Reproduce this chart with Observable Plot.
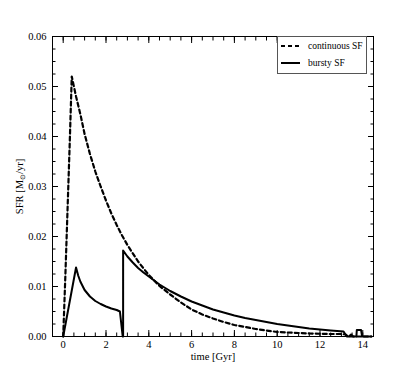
<!DOCTYPE html>
<html>
<head>
<meta charset="utf-8">
<script src="https://cdn.jsdelivr.net/npm/d3@7"></script>
<script src="https://cdn.jsdelivr.net/npm/@observablehq/plot@0.6"></script>
<style>
  html, body { margin: 0; padding: 0; background: #fff; }
  #wrap { position: relative; width: 415px; height: 374px; }
  #legend { position: absolute; left: 277px; top: 36px; width: 88px; height: 36px;
    border: 1px solid #555; background: #fff; font-family: 'Liberation Serif', serif; font-size: 9px; }
</style>
</head>
<body>
<div id="wrap"></div>
<script>
// continuous SF (dashed)
const contTime = [0, 0.1, 0.2, 0.3, 0.4, 0.6, 0.8, 1.0, 1.25, 1.5, 1.75, 2.0, 2.25, 2.5, 2.75, 3.0, 3.5, 4.0, 4.5, 5.0, 5.5, 6.0, 6.5, 7.0, 7.5, 8.0, 8.5, 9.0, 9.5, 10.0, 10.5, 11.0, 11.5, 12.0, 12.5, 13.0, 13.2, 13.3, 14.4];
const contSFR  = [0, 0.012, 0.025, 0.038, 0.052, 0.048, 0.0445, 0.0405, 0.0365, 0.0330, 0.0300, 0.0272, 0.0246, 0.0223, 0.0202, 0.0183, 0.0150, 0.0123, 0.0101, 0.0084, 0.0068, 0.0054, 0.0044, 0.0036, 0.0029, 0.0023, 0.0019, 0.0015, 0.0012, 0.0009, 0.0008, 0.0007, 0.0006, 0.00055, 0.0005, 0.0005, 0.0004, 0, 0];
// bursty SF (solid)
const burstTime = [0, 0.6, 0.7, 0.8, 1.0, 1.25, 1.5, 1.75, 2.0, 2.25, 2.5, 2.65, 2.78, 2.8, 2.8, 3.0, 3.25, 3.5, 3.75, 4.0, 4.5, 5.0, 5.5, 6.0, 6.5, 7.0, 7.5, 8.0, 8.5, 9.0, 9.5, 10.0, 10.5, 11.0, 11.5, 12.0, 12.5, 13.1, 13.25, 13.35, 13.45, 13.55, 13.7, 13.72, 13.92, 13.97, 14.4];
const burstSFR  = [0, 0.0138, 0.0122, 0.0110, 0.0093, 0.0080, 0.0071, 0.0065, 0.0060, 0.0056, 0.0053, 0.0050, 0, 0, 0.0172, 0.0160, 0.0148, 0.0137, 0.0128, 0.0120, 0.0104, 0.0091, 0.0080, 0.0070, 0.0062, 0.0054, 0.0048, 0.0042, 0.0037, 0.0033, 0.0029, 0.0025, 0.0022, 0.0019, 0.0016, 0.0014, 0.0012, 0.0010, 0, 0, 0.0004, 0, 0, 0.0013, 0.0013, 0, 0];

const xTicks = [0, 2, 4, 6, 8, 10, 12, 14];
const yTicks = [0, 0.01, 0.02, 0.03, 0.04, 0.05, 0.06];
const xMinor = d3.range(-0.5, 14.51, 0.5);
const yMinor = d3.range(0, 0.0601, 0.0025);

const cont = contTime.map((t, i) => ({t, v: contSFR[i]}));
const burst = burstTime.map((t, i) => ({t, v: burstSFR[i]}));

const blank = () => "";
const chart = Plot.plot({
  width: 415, height: 374,
  marginLeft: 52, marginRight: 42, marginTop: 36, marginBottom: 38,
  style: {fontFamily: "'Liberation Serif', serif", fontSize: "10.5px", color: "#000", background: "#fff", overflow: "visible"},
  x: {domain: [-0.5, 14.5]},
  y: {domain: [0, 0.06]},
  marks: [
    Plot.line(cont, {x: "t", y: "v", stroke: "#000", strokeWidth: 2.2, strokeDasharray: "4,3"}),
    Plot.line(burst, {x: "t", y: "v", stroke: "#000", strokeWidth: 2}),
    Plot.axisX({ticks: xMinor, tickSize: -3.5, tickFormat: blank, label: null}),
    Plot.axisX({ticks: xTicks, tickSize: -6, tickPadding: 10, tickFormat: d => String(d), label: "time [Gyr]", labelAnchor: "center", labelArrow: "none", labelOffset: 23}),
    Plot.axisX({anchor: "top", ticks: xMinor, tickSize: -3.5, tickFormat: blank, label: null}),
    Plot.axisX({anchor: "top", ticks: xTicks, tickSize: -6, tickFormat: blank, label: null}),
    Plot.axisY({ticks: yMinor, tickSize: -3.5, tickFormat: blank, label: null}),
    Plot.axisY({ticks: yTicks, tickSize: -6, tickPadding: 12, tickFormat: d => d.toFixed(2), label: "SFR [M⊙/yr]", labelAnchor: "center", labelArrow: "none", labelOffset: 37}),
    Plot.axisY({anchor: "right", ticks: yMinor, tickSize: -3.5, tickFormat: blank, label: null}),
    Plot.axisY({anchor: "right", ticks: yTicks, tickSize: -6, tickFormat: blank, label: null}),
    Plot.frame({stroke: "#000", strokeWidth: 1})
  ]
});
document.getElementById("wrap").appendChild(chart);

// subscript for the solar symbol in the y label
d3.select(chart).selectAll("text").each(function() {
  const el = d3.select(this);
  if (el.text().trim() === "SFR [M⊙/yr]") {
    el.text(null);
    el.append("tspan").text("SFR [M");
    el.append("tspan").attr("font-size", "7px").attr("dy", "2").text("⊙");
    el.append("tspan").attr("dy", "-2").text("/yr]");
  }
});

// legend
const legend = document.createElement("div");
legend.id = "legend";
legend.innerHTML = `
<svg width="88" height="36" style="position:absolute;left:0;top:0">
  <line x1="3" x2="22" y1="9" y2="9" stroke="#000" stroke-width="2.2" stroke-dasharray="4,3"/>
  <line x1="3" x2="22" y1="26" y2="26" stroke="#000" stroke-width="2"/>
  <text x="30" y="12" font-family="'Liberation Serif', serif" font-size="9.5">continuous SF</text>
  <text x="30" y="29" font-family="'Liberation Serif', serif" font-size="9.5">bursty SF</text>
</svg>`;
document.getElementById("wrap").appendChild(legend);
</script>
</body>
</html>
